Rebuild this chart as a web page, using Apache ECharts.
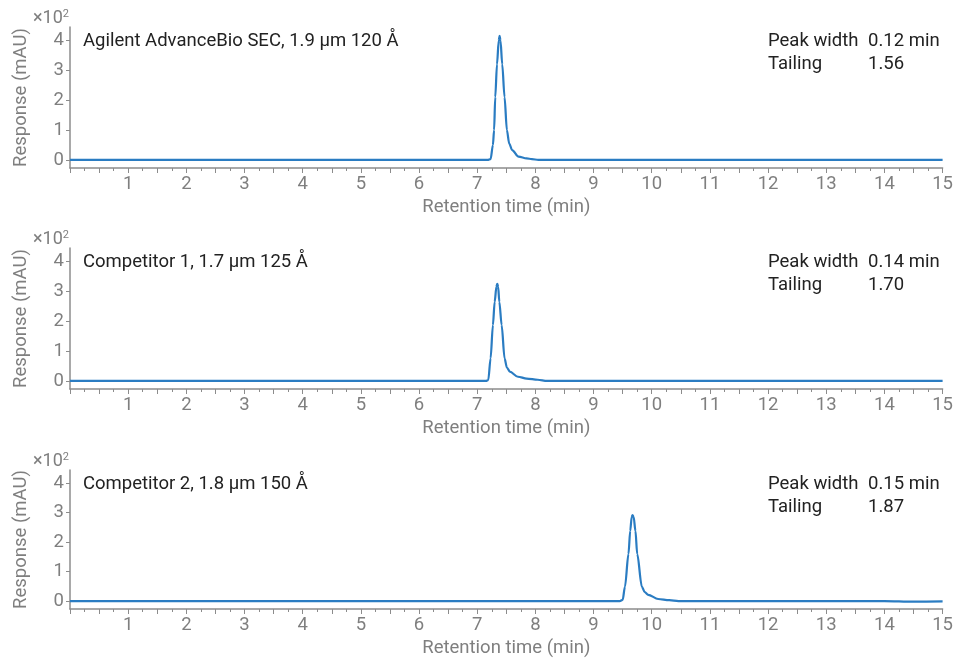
<!DOCTYPE html>
<html>
 <head>
  <title>SEC chromatograms</title>
  <script src="https://cdn.jsdelivr.net/npm/echarts@6/dist/echarts.min.js"></script>
  <style>
    html, body, #container {
    width: 100%;
    height: 100%;
    margin: 0;
    padding: 0;
    }
  </style>
 </head>

<body>
  <div id="container"></div>
  <script>
    // column labels and metrics
    var columnNames = ['Agilent AdvanceBio SEC, 1.9 µm 120 Å', 'Competitor 1, 1.7 µm 125 Å', 'Competitor 2, 1.8 µm 150 Å'];
    var peakWidths = ['0.12 min', '0.14 min', '0.15 min'];
    var tailings = ['1.56', '1.70', '1.87'];
    var yTicks = [0, 1, 2, 3, 4];

    // traces: [retention time (min), response (x100 mAU)]
    var agilentTrace = [[0, 0], [7.18, 0], [7.23, 0.03], [7.27, 0.5], [7.29, 1.0], [7.31, 2.1], [7.34, 3.2],
      [7.37, 4.0], [7.385, 4.15], [7.40, 4.0], [7.43, 3.2], [7.47, 2.1], [7.51, 1.0], [7.55, 0.55],
      [7.60, 0.33], [7.71, 0.11], [7.85, 0.05], [7.94, 0.03], [8.05, 0], [15, 0]];
    var comp1Trace = [[0, 0], [7.15, 0], [7.19, 0.03], [7.23, 0.76], [7.27, 1.87], [7.30, 2.65],
      [7.33, 3.15], [7.345, 3.25], [7.36, 3.15], [7.38, 2.65], [7.42, 1.87], [7.47, 0.76],
      [7.51, 0.45], [7.56, 0.31], [7.70, 0.14], [7.85, 0.08], [8.04, 0.04], [8.2, 0], [15, 0]];
    var comp2Trace = [[0, 0], [9.45, 0], [9.50, 0.04], [9.54, 0.49], [9.60, 1.6], [9.63, 2.38],
      [9.655, 2.85], [9.67, 2.92], [9.69, 2.85], [9.72, 2.38], [9.75, 1.6], [9.83, 0.49],
      [9.88, 0.3], [9.94, 0.21], [10.11, 0.07], [10.3, 0.03], [10.46, 0], [14, 0], [14.5, -0.02], [15, -0.01]];

    var traces = [agilentTrace, comp1Trace, comp2Trace];

    var chartDom = document.getElementById('container');
    var myChart = echarts.init(chartDom);

    var grey = '#7f7f7f';
    var font = 'Roboto';
    var fs = 18.5;
    var axisBottoms = [168, 389, 611];
    var panelH = 141;

    var grids = [], xAxes = [], yAxes = [], series = [], graphics = [];

    for (var i = 0; i < 3; i++) {
      var bottomY = axisBottoms[i];
      var topY = bottomY - panelH;
      grids.push({left: 70, right: 11, top: topY, height: panelH});
      xAxes.push({
        type: 'value', gridIndex: i, min: 0, max: 15, interval: 0.5,
        name: 'Retention time (min)', nameLocation: 'middle', nameGap: 30,
        nameTextStyle: {color: grey, fontSize: fs, fontFamily: font},
        axisLine: {show: true, onZero: false, lineStyle: {color: '#8c8c8c', width: 1.5}},
        axisTick: {show: true, length: 5, lineStyle: {color: '#8c8c8c'}},
        minorTick: {show: true, splitNumber: 2, length: 3, lineStyle: {color: '#8c8c8c'}},
        axisLabel: {color: grey, fontSize: fs, fontFamily: font, margin: 7,
          formatter: function (v) { return (v > 0 && v % 1 === 0) ? String(v) : ''; }},
        splitLine: {show: false}
      });
      yAxes.push({
        type: 'value', gridIndex: i, min: -0.27, max: 4.45,
        name: 'Response (mAU)', nameLocation: 'middle', nameGap: 39,
        nameTextStyle: {color: grey, fontSize: fs, fontFamily: font},
        axisLine: {show: true, onZero: false, lineStyle: {color: '#8c8c8c', width: 1.5}},
        axisTick: {show: true, length: 4, customValues: yTicks, lineStyle: {color: '#8c8c8c'}},
        axisLabel: {color: grey, fontSize: fs, fontFamily: font, margin: 6, customValues: yTicks},
        splitLine: {show: false}
      });
      series.push({
        type: 'line', xAxisIndex: i, yAxisIndex: i, data: traces[i],
        showSymbol: false, smooth: 0.3, smoothMonotone: 'x',
        lineStyle: {color: '#2a7cc2', width: 2.2}
      });
      graphics.push({
        type: 'text', left: 33, top: topY - 18,
        style: {text: '{a|×10}{b|2}', rich: {
          a: {fontSize: 18, fill: grey, fontFamily: font},
          b: {fontSize: 11, fill: grey, fontFamily: font, verticalAlign: 'top', padding: [0, 0, 8, 0]}
        }}
      });
      graphics.push({
        type: 'text', left: 83, top: topY + 5,
        style: {text: columnNames[i], fontSize: fs, fill: '#222', fontFamily: font}
      });
      graphics.push({
        type: 'text', left: 768, top: topY + 3,
        style: {text: 'Peak width\nTailing', fontSize: fs, lineHeight: 23, fill: '#222', fontFamily: font}
      });
      graphics.push({
        type: 'text', left: 868, top: topY + 3,
        style: {text: peakWidths[i] + '\n' + tailings[i], fontSize: fs, lineHeight: 23, fill: '#222', fontFamily: font}
      });
    }

    var options = {
      animation: false,
      grid: grids,
      xAxis: xAxes,
      yAxis: yAxes,
      series: series,
      graphic: graphics
    };

    myChart.setOption(options);
  </script>
</body>
</html>
